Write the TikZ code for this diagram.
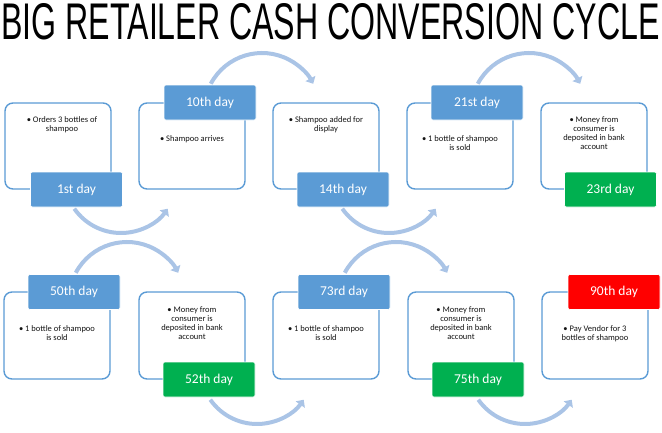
\documentclass[tikz,border=0pt]{standalone}
\usepackage{fontspec}
\setmainfont{Carlito}
\newfontfamily\titlefont{Liberation Sans}
\usetikzlibrary{arrows.meta}
\definecolor{boxblue}{RGB}{91,155,213}
\definecolor{daygreen}{RGB}{0,176,80}
\definecolor{dayred}{RGB}{255,0,0}
\definecolor{arccol}{RGB}{170,196,230}
\begin{document}
\begin{tikzpicture}[x=1pt,y=-1pt,
  wbox/.style={draw=boxblue, line width=1.4pt, rounded corners=8pt, fill=white,
    minimum width=106pt, minimum height=86pt, inner sep=0pt},
  daybox/.style={fill=boxblue, draw=white, line width=0.6pt, rounded corners=2pt,
    minimum width=92pt, minimum height=35pt, inner sep=0pt, text=white,
    font=\fontsize{13.5}{15}\selectfont},
  greenday/.style={daybox, fill=daygreen},
  redday/.style={daybox, fill=dayred},
  btext/.style={anchor=north, align=center, inner sep=0pt, text=black!92,
    font=\fontsize{8.5}{9.3}\selectfont},
  arcarrow/.style={draw=arccol, line width=4pt,
    -{Triangle[length=6pt,width=11pt]}}
]
\useasboundingbox (0,0) rectangle (662,432);

% title
\node[inner sep=0pt] (title) at (330.5,21.5)
  {\resizebox{658pt}{36pt}{\titlefont BIG RETAILER CASH CONVERSION CYCLE}};

% arc centres
\coordinate (a1) at (121,176);
\coordinate (a2) at (262,111);
\coordinate (a3) at (389,176);
\coordinate (a4) at (529,111);
\coordinate (a5) at (127,300);
\coordinate (a6) at (257,367);
\coordinate (a7) at (396,300);
\coordinate (a8) at (525,367);

% arcs (behind)
\draw[arcarrow] ([shift={(145:57)}]a1) arc[start angle=145, end angle=35, radius=57];
\draw[arcarrow] ([shift={(208:58)}]a2) arc[start angle=208, end angle=332, radius=58];
\draw[arcarrow] ([shift={(145:57)}]a3) arc[start angle=145, end angle=35, radius=57];
\draw[arcarrow] ([shift={(208:58)}]a4) arc[start angle=208, end angle=332, radius=58];
\draw[arcarrow] ([shift={(208:58)}]a5) arc[start angle=208, end angle=332, radius=58];
\draw[arcarrow] ([shift={(145:57)}]a6) arc[start angle=145, end angle=35, radius=57];
\draw[arcarrow] ([shift={(208:58)}]a7) arc[start angle=208, end angle=332, radius=58];
\draw[arcarrow] ([shift={(145:57)}]a8) arc[start angle=145, end angle=35, radius=57];

% white boxes row 1
\node[wbox] (b1) at (58,146) {};
\node[wbox] (b2) at (192,146) {};
\node[wbox] (b3) at (326,146) {};
\node[wbox] (b4) at (460,146) {};
\node[wbox] (b5) at (594,146) {};
% white boxes row 2
\node[wbox, minimum height=87pt] (b6) at (57,335.5) {};
\node[wbox, minimum height=87pt] (b7) at (192,335.5) {};
\node[wbox, minimum height=87pt] (b8) at (326,335.5) {};
\node[wbox, minimum height=87pt] (b9) at (461,335.5) {};
\node[wbox, minimum height=87pt] (b10) at (595,335.5) {};

% texts row 1
\node[btext] (t1) at (62,116) {• Orders 3 bottles of\\shampoo};
\node[btext] (t2) at (192,135) {• Shampoo arrives};
\node[btext] (t3) at (326,116) {• Shampoo added for\\display};
\node[btext] (t4) at (460,135) {• 1 bottle of shampoo\\is sold};
\node[btext] (t5) at (594,116) {• Money from\\consumer is\\deposited in bank\\account};
% texts row 2
\node[btext] (t6) at (57,325) {• 1 bottle of shampoo\\is sold};
\node[btext] (t7) at (192,306) {• Money from\\consumer is\\deposited in bank\\account};
\node[btext] (t8) at (326,325) {• 1 bottle of shampoo\\is sold};
\node[btext] (t9) at (461,306) {• Money from\\consumer is\\deposited in bank\\account};
\node[btext] (t10) at (595,325) {• Pay Vendor for 3\\bottles of shampoo};

% day labels row 1
\node[daybox] (d1) at (76.5,189.5) {1st day};
\node[daybox] (d2) at (210,102.5) {10th day};
\node[daybox] (d3) at (343,189.5) {14th day};
\node[daybox] (d4) at (477,102.5) {21st day};
\node[greenday] (d5) at (610.5,189.5) {23rd day};
% day labels row 2
\node[daybox] (d6) at (74,292) {50th day};
\node[greenday] (d7) at (209,379.5) {52th day};
\node[daybox] (d8) at (344,292) {73rd day};
\node[greenday] (d9) at (478,379.5) {75th day};
\node[redday] (d10) at (614,292) {90th day};
\end{tikzpicture}
\end{document}
